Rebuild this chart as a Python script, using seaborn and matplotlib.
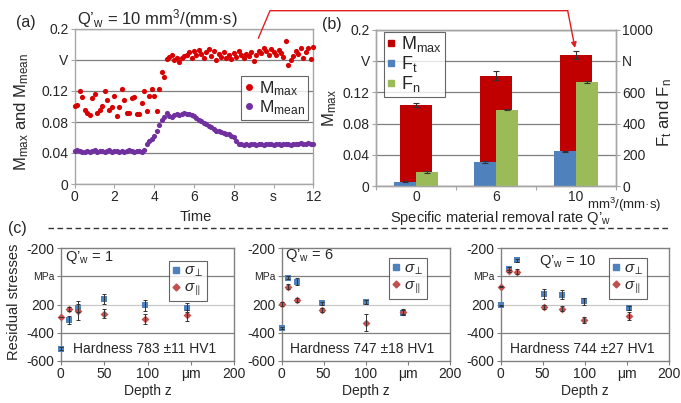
import numpy as np
import pandas as pd
import seaborn as sns
import matplotlib.pyplot as plt
from matplotlib import font_manager
from matplotlib.lines import Line2D

# (a) time signal, Q'w = 10
time_s = [0, 0.125, 0.25, 0.375, 0.5, 0.625, 0.75, 0.875, 1, 1.125, 1.25, 1.375,
          1.5, 1.625, 1.75, 1.875, 2, 2.125, 2.25, 2.375, 2.5, 2.625, 2.75, 2.875,
          3, 3.125, 3.25, 3.375, 3.5, 3.625, 3.75, 3.875, 4, 4.125, 4.25, 4.375,
          4.5, 4.625, 4.75, 4.875, 5, 5.125, 5.25, 5.375, 5.5, 5.625, 5.75, 5.875,
          6, 6.125, 6.25, 6.375, 6.5, 6.625, 6.75, 6.875, 7, 7.125, 7.25, 7.375,
          7.5, 7.625, 7.75, 7.875, 8, 8.125, 8.25, 8.375, 8.5, 8.625, 8.75, 8.875,
          9, 9.125, 9.25, 9.375, 9.5, 9.625, 9.75, 9.875, 10, 10.125, 10.25, 10.375,
          10.5, 10.625, 10.75, 10.875, 11, 11.125, 11.25, 11.375, 11.5, 11.625,
          11.75, 11.875, 12]
m_max = [0.100, 0.102, 0.120, 0.112, 0.095, 0.092, 0.089, 0.111, 0.116, 0.091,
         0.095, 0.100, 0.120, 0.109, 0.096, 0.099, 0.113, 0.088, 0.099, 0.122,
         0.109, 0.091, 0.091, 0.111, 0.112, 0.090, 0.090, 0.104, 0.120, 0.094,
         0.113, 0.123, 0.113,
         0.094, 0.123, 0.145, 0.138, 0.161, 0.164, 0.166, 0.160, 0.163, 0.158,
         0.162, 0.165, 0.167, 0.170, 0.163, 0.171,
         0.166, 0.173, 0.168, 0.162, 0.170, 0.174, 0.165, 0.171, 0.160, 0.168,
         0.164, 0.170, 0.163, 0.166, 0.161, 0.169, 0.164, 0.171, 0.167, 0.162,
         0.168, 0.165, 0.170, 0.159, 0.166, 0.172, 0.169, 0.175, 0.171, 0.167,
         0.174, 0.170, 0.166, 0.173, 0.169, 0.164, 0.184, 0.153, 0.160, 0.165,
         0.172, 0.168, 0.175, 0.163, 0.170, 0.176, 0.161, 0.177]
m_mean = [0.043, 0.044, 0.043, 0.041, 0.041, 0.043, 0.041, 0.042, 0.044, 0.041,
          0.042, 0.043, 0.041, 0.043, 0.044, 0.041, 0.042, 0.042, 0.041, 0.043,
          0.041, 0.042, 0.044, 0.042, 0.041, 0.043, 0.042, 0.041, 0.044,
          0.052, 0.055, 0.058, 0.062, 0.068, 0.076, 0.082, 0.087, 0.092, 0.088,
          0.086, 0.089, 0.090, 0.089, 0.090, 0.091, 0.090, 0.090, 0.089, 0.088,
          0.085, 0.083, 0.081, 0.079, 0.077, 0.075, 0.073, 0.071, 0.069, 0.068,
          0.067, 0.066, 0.065, 0.064, 0.062, 0.061,
          0.055, 0.052, 0.051, 0.050, 0.051, 0.050, 0.052, 0.051, 0.050, 0.051,
          0.051, 0.050, 0.052, 0.051, 0.051, 0.050, 0.052, 0.051, 0.050, 0.051,
          0.052, 0.051, 0.050, 0.051, 0.052, 0.051, 0.053, 0.051, 0.052, 0.053,
          0.051, 0.052]

# (b) mean values per removal rate
rate_labels = ['0', '6', '10']
bar_m_max = [0.1038, 0.1413, 0.1677]
bar_m_max_err = [0.003, 0.006, 0.005]
force_t = [30, 155, 223]
force_t_err = [4, 4, 5]
force_n = [91, 489, 666]
force_n_err = [5, 5, 6]

# (c) residual stresses over depth
c1_depth = [0, 10, 20, 50, 97, 145]
c1_perp = [-512, -311, -222, -163, -205, -222]
c1_perp_err = [10, 30, 28, 35, 38, 30]
c1_par = [-288, -233, -245, -264, -300, -276]
c1_par_err = [0, 15, 68, 30, 35, 40]

c2_depth = [0, 8, 18, 48, 100, 145]
c2_perp = [-368, -10, -38, -191, -182, -257]
c2_perp_err = [8, 10, 25, 10, 15, 15]
c2_par = [-194, -73, -167, -240, -328, -250]
c2_par_err = [15, 20, 15, 15, 60, 15]

c3_depth = [0, 10, 19, 52, 73, 99, 153]
c3_perp = [-205, 54, 113, -123, -130, -177, -224]
c3_perp_err = [5, 10, 10, 35, 30, 25, 15]
c3_par = [-73, 37, 33, -215, -229, -309, -281]
c3_par_err = [5, 10, 15, 15, 15, 20, 30]

c_rates = ['1', '6', '10']
c_hardness = ['Hardness 783 \u00b111 HV1', 'Hardness 747 \u00b118 HV1', 'Hardness 744 \u00b127 HV1']

RED = '#d90000'
PURPLE = '#7030a0'
BAR_RED = '#c00000'
BAR_BLUE = '#4f81bd'
BAR_GREEN = '#9bbb59'
C_BLUE = '#4f81bd'
C_RED = '#c0504d'
GRID = '#7f7f7f'
SPINE = '#a6a6a6'

sns.set_theme(style='white')
installed = {f.name for f in font_manager.fontManager.ttflist}
narrow = 'Liberation Sans Narrow' in installed
plt.rcParams['font.family'] = ['Liberation Sans', 'DejaVu Sans']
plt.rcParams['mathtext.fontset'] = 'custom'
plt.rcParams['mathtext.rm'] = 'Liberation Sans'
plt.rcParams['mathtext.it'] = 'Liberation Sans:italic'
plt.rcParams['mathtext.bf'] = 'Liberation Sans:bold'
c_family = ['Liberation Sans Narrow', 'Liberation Sans'] if narrow else ['Liberation Sans']
c_fs = 11 if narrow else 10

W, H = 681, 403
fig = plt.figure(figsize=(W / 100, H / 100), dpi=100)


def rect(l, t, r, b):
    return [l / W, 1 - b / H, (r - l) / W, (b - t) / H]


def ftext(x, y, s, **kw):
    kw.setdefault('ha', 'center')
    kw.setdefault('va', 'center')
    fig.text(x / W, 1 - y / H, s, **kw)


def frame(ax, color=SPINE):
    for sp in ax.spines.values():
        sp.set_color(color)
        sp.set_linewidth(1)
    ax.set_xlabel('')
    ax.set_ylabel('')


# ---- (a)
ax_a = fig.add_axes(rect(74.7, 29, 313.3, 184))
df_a = pd.DataFrame({'t': time_s, 'max': m_max, 'mean': m_mean})
sns.scatterplot(data=df_a, x='t', y='max', color=RED, s=14, linewidth=0,
                ax=ax_a, clip_on=False, zorder=3)
sns.scatterplot(data=df_a, x='t', y='mean', color=PURPLE, s=14, linewidth=0,
                ax=ax_a, clip_on=False, zorder=3)
ax_a.set_xlim(0, 12)
ax_a.set_ylim(0, 0.2)
ax_a.set_xticks([0, 2, 4, 6, 8, 10, 12])
ax_a.set_xticklabels(['0', '2', '4', '6', '8', 's', '12'])
ax_a.set_yticks([0, 0.04, 0.08, 0.12, 0.16, 0.2])
ax_a.set_yticklabels(['0', '0.04', '0.08', '0.12', 'V', '0.2'])
ax_a.yaxis.grid(True, color=GRID, lw=0.9)
ax_a.set_axisbelow(True)
ax_a.tick_params(labelsize=10, length=3, width=0.8, color=SPINE, pad=1.5, left=True, bottom=True)
frame(ax_a)
leg_a = ax_a.legend(handles=[
    Line2D([], [], ls='none', marker='o', ms=4, color=RED, label='M$_\\mathregular{max}$'),
    Line2D([], [], ls='none', marker='o', ms=4, color=PURPLE, label='M$_\\mathregular{mean}$')],
    loc='upper left', bbox_to_anchor=(0.696, 0.695), fontsize=12.5, frameon=True,
    fancybox=False, edgecolor='#404040', handlelength=0.6, handletextpad=0.3,
    borderpad=0.15, labelspacing=0.05, borderaxespad=0)
leg_a.get_frame().set_linewidth(0.8)

# ---- (b)
ax_b = fig.add_axes(rect(376, 29.5, 616, 186.3))
sns.barplot(x=rate_labels, y=bar_m_max, color=BAR_RED, width=0.4, saturation=1,
            errorbar=None, linewidth=0, ax=ax_b)
ax_b.errorbar(np.arange(len(rate_labels)), bar_m_max, yerr=bar_m_max_err, fmt='none',
              ecolor='#333333', elinewidth=0.8, capsize=2, capthick=0.8)
ax_r = ax_b.twinx()
df_f = pd.DataFrame({'rate': rate_labels * 2,
                     'force': force_t + force_n,
                     'comp': ['Ft'] * 3 + ['Fn'] * 3})
sns.barplot(data=df_f, x='rate', y='force', hue='comp', palette=[BAR_BLUE, BAR_GREEN],
            width=0.56, saturation=1, errorbar=None, legend=False, linewidth=0, ax=ax_r)
pos = np.arange(len(rate_labels))
ax_r.errorbar(pos - 0.14, force_t, yerr=force_t_err, fmt='none', ecolor='#333333',
              elinewidth=0.8, capsize=2, capthick=0.8)
ax_r.errorbar(pos + 0.14, force_n, yerr=force_n_err, fmt='none', ecolor='#333333',
              elinewidth=0.8, capsize=2, capthick=0.8)
ax_b.set_xlim(-0.5, 2.5)
ax_b.set_ylim(0, 0.2)
ax_r.set_ylim(0, 1000)
ax_b.set_yticks([0, 0.04, 0.08, 0.12, 0.16, 0.2])
ax_b.set_yticklabels(['0', '0.04', '0.08', '0.12', 'V', '0.2'])
ax_r.set_yticks([0, 200, 400, 600, 800, 1000])
ax_r.set_yticklabels(['0', '200', '400', '600', 'N', '1000'])
ax_b.set_xticks([0, 1, 2])
ax_b.set_xticklabels(rate_labels)
ax_b.set_xticks([-0.5, 0.5, 1.5, 2.5], minor=True)
ax_b.yaxis.grid(True, color=GRID, lw=0.9)
ax_b.set_axisbelow(True)
ax_b.tick_params(labelsize=10, length=3, width=0.8, color=SPINE, pad=1.5, left=True, bottom=True)
ax_b.tick_params(axis='x', which='major', length=0, pad=3)
ax_b.tick_params(axis='x', which='minor', length=3, width=0.8, color=SPINE, bottom=True)
ax_r.tick_params(labelsize=10, length=3, width=0.8, color=SPINE, pad=1.5, right=True)
ax_r.grid(False)
frame(ax_b)
frame(ax_r)
leg_b = ax_r.legend(handles=[
    Line2D([], [], ls='none', marker='s', ms=4.5, color=BAR_RED, label='M$_\\mathregular{max}$'),
    Line2D([], [], ls='none', marker='s', ms=4.5, color=BAR_BLUE, label='F$_\\mathregular{t}$'),
    Line2D([], [], ls='none', marker='s', ms=4.5, color=BAR_GREEN, label='F$_\\mathregular{n}$')],
    loc='upper left', bbox_to_anchor=(0.033, 0.986), fontsize=13, frameon=True,
    fancybox=False, edgecolor='#404040', handlelength=0.5, handletextpad=0.3,
    borderpad=0.15, labelspacing=0.0, borderaxespad=0)
leg_b.get_frame().set_linewidth(0.8)

# ---- (c)
c_boxes = [(60.7, 234.3), (281.7, 449.5), (500.7, 668.5)]
c_sets = [(c1_depth, c1_perp, c1_perp_err, c1_par, c1_par_err),
          (c2_depth, c2_perp, c2_perp_err, c2_par, c2_par_err),
          (c3_depth, c3_perp, c3_perp_err, c3_par, c3_par_err)]
q_pos = [(65, 258, 'left'), (285, 256, 'left'), (567, 261, 'center')]
leg_pos = [(0.624, 0.885), (0.64, 0.91), (0.645, 0.91)]
hard_x = [145, 362, 582]

for i, (l, r) in enumerate(c_boxes):
    ax = fig.add_axes(rect(l, 248, r, 361))
    depth, perp, perp_err, par, par_err = c_sets[i]
    ax.errorbar(depth, perp, yerr=perp_err, fmt='none', ecolor='#333333',
                elinewidth=0.7, capsize=1.5, capthick=0.7, zorder=4, clip_on=False)
    ax.errorbar(depth, par, yerr=par_err, fmt='none', ecolor='#333333',
                elinewidth=0.7, capsize=1.5, capthick=0.7, zorder=4, clip_on=False)
    sns.scatterplot(x=depth, y=perp, marker='s', color=C_BLUE, s=22, linewidth=0,
                    ax=ax, clip_on=False, zorder=3)
    sns.scatterplot(x=depth, y=par, marker='D', color=C_RED, s=16, linewidth=0,
                    ax=ax, clip_on=False, zorder=3)
    ax.set_xlim(0, 200)
    ax.set_ylim(-600, 200)
    ax.set_xticks([0, 50, 100, 150, 200])
    ax.set_xticklabels(['0', '50', '100', '\u03bcm', '200'], family=c_family, fontsize=c_fs)
    ax.set_yticks([-600, -400, -200, 0, 200])
    ylabs = ax.set_yticklabels(['-600', '-400', '200', 'MPa', '-200'], family=c_family, fontsize=c_fs)
    ylabs[3].set_fontsize(c_fs - 2.5)
    for yv, col in [(0, GRID), (-200, '#c8c8c8'), (-400, GRID)]:
        ax.axhline(yv, color=col, lw=0.9, zorder=1)
    ax.tick_params(length=3, width=0.8, color='#808080', pad=1.5, left=True, bottom=True)
    frame(ax, '#808080')
    leg = ax.legend(handles=[
        Line2D([], [], ls='none', marker='s', ms=4, color=C_BLUE, label='$\\sigma_\\perp$'),
        Line2D([], [], ls='none', marker='D', ms=3.5, color=C_RED, label='$\\sigma_\\parallel$')],
        loc='upper left', bbox_to_anchor=leg_pos[i], fontsize=11, frameon=True,
        fancybox=False, edgecolor='#404040', handlelength=0.5, handletextpad=0.3,
        borderpad=0.2, labelspacing=0.1, borderaxespad=0)
    leg.get_frame().set_linewidth(0.8)
    qx, qy, qha = q_pos[i]
    ftext(qx, qy, 'Q\u2019$_\\mathregular{w}$ = ' + c_rates[i], fontsize=c_fs + 0.5,
          ha=qha, family=c_family)
    ftext(hard_x[i], 349, c_hardness[i], fontsize=c_fs, family=c_family)
    ftext((l + r) / 2, 391, 'Depth z', fontsize=c_fs, family=c_family)

# ---- figure texts
ftext(26, 23, '(a)', fontsize=11.5)
ftext(77, 19, 'Q\u2019$_\\mathregular{w}$ = 10 mm$^\\mathregular{3}$/(mm\u00b7s)', fontsize=12, ha='left')
ftext(22, 112, 'M$_\\mathregular{max}$ and M$_\\mathregular{mean}$', fontsize=12, rotation=90)
ftext(196, 217, 'Time', fontsize=10.5)
ftext(332, 25, '(b)', fontsize=11.5)
ftext(330, 108, 'M$_\\mathregular{max}$', fontsize=12, rotation=90)
ftext(665, 113, 'F$_\\mathregular{t}$ and F$_\\mathregular{n}$', fontsize=12, rotation=90)
ftext(587, 205, 'mm$^\\mathregular{3}$/(mm\u00b7s)', fontsize=9.5, ha='left')
ftext(500, 218, 'Specific material removal rate Q\u2019$_\\mathregular{w}$', fontsize=10.5)
ftext(17, 228, '(c)', fontsize=11.5)
ftext(14, 302, 'Residual stresses', fontsize=c_fs + 0.5, rotation=90, family=c_family)

# dashed separator and red connector arrow
fig.add_artist(Line2D([48 / W, 668 / W], [1 - 228 / H, 1 - 228 / H], transform=fig.transFigure,
                      color='#333333', lw=1, linestyle=(0, (4, 2.5))))
fig.add_artist(Line2D([258.3 / W, 270 / W, 567.7 / W],
                      [1 - 38.3 / H, 1 - 10.7 / H, 1 - 10.7 / H],
                      transform=fig.transFigure, color='#e02020', lw=1))
ax_r.annotate('', xy=(575, H - 48), xytext=(567.7, H - 10.7), xycoords='figure pixels',
              textcoords='figure pixels',
              arrowprops=dict(arrowstyle='-|>', color='#e02020', lw=1, mutation_scale=8,
                              shrinkA=0, shrinkB=0))

fig.savefig('out.png', dpi=100)
